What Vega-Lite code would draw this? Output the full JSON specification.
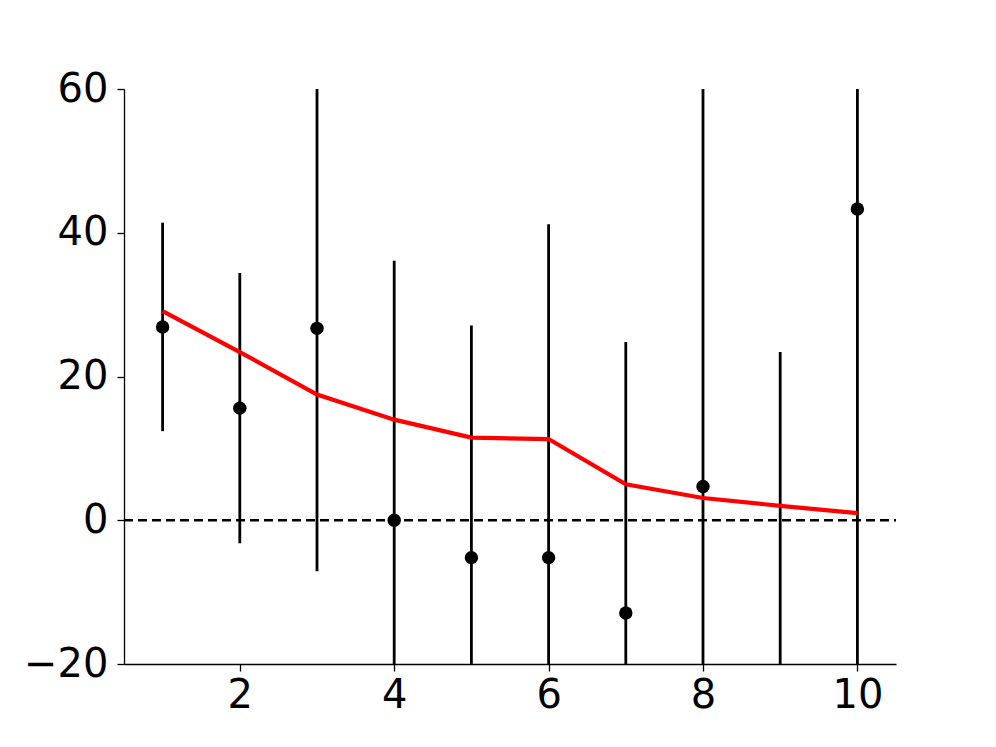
{
  "$schema": "https://vega.github.io/schema/vega-lite/v6.json",
  "width": 772,
  "height": 575,
  "autosize": {"type": "none"},
  "padding": {"left": 124, "top": 89, "right": 100, "bottom": 83},
  "background": "white",
  "config": {
    "view": {"stroke": null},
    "font": "DejaVu Sans",
    "axis": {
      "grid": false,
      "domainColor": "black",
      "domainWidth": 1.3,
      "tickColor": "black",
      "tickWidth": 1.3,
      "tickSize": 7,
      "labelFont": "DejaVu Sans",
      "labelFontSize": 40,
      "labelColor": "black",
      "title": null
    },
    "axisX": {"labelPadding": 4},
    "axisY": {"labelPadding": 9}
  },
  "datasets": {
    "obs": [
      {"x": 1, "y": 26.9, "lo": 12.4, "hi": 41.4},
      {"x": 2, "y": 15.6, "lo": -3.2, "hi": 34.4},
      {"x": 3, "y": 26.7, "lo": -7.1, "hi": 70},
      {"x": 4, "y": 0.0, "lo": -30, "hi": 36.1},
      {"x": 5, "y": -5.2, "lo": -30, "hi": 27.1},
      {"x": 6, "y": -5.2, "lo": -30, "hi": 41.2},
      {"x": 7, "y": -12.9, "lo": -30, "hi": 24.8},
      {"x": 8, "y": 4.7, "lo": -30, "hi": 70},
      {"x": 9, "y": null, "lo": -30, "hi": 23.4},
      {"x": 10, "y": 43.3, "lo": -30, "hi": 70}
    ],
    "trend": [
      {"x": 1, "v": 29.1},
      {"x": 2, "v": 23.4},
      {"x": 3, "v": 17.5},
      {"x": 4, "v": 14.0},
      {"x": 5, "v": 11.5},
      {"x": 6, "v": 11.3},
      {"x": 7, "v": 5.0},
      {"x": 8, "v": 3.1},
      {"x": 9, "v": 2.0},
      {"x": 10, "v": 1.0}
    ],
    "zero": [{"x": 0.5, "v": 0}, {"x": 10.5, "v": 0}]
  },
  "layer": [
    {
      "data": {"name": "zero"},
      "mark": {"type": "line", "color": "black", "strokeWidth": 2.6, "strokeDash": [9, 5], "clip": true},
      "encoding": {
        "x": {"field": "x", "type": "quantitative", "scale": {"domain": [0.5, 10.5], "nice": false, "zero": false},
              "axis": {"values": [2, 4, 6, 8, 10], "format": "d"}},
        "y": {"field": "v", "type": "quantitative", "scale": {"domain": [-20, 60], "nice": false},
              "axis": {"values": [-20, 0, 20, 40, 60], "labelExpr": "replace(datum.label, '-', '−')"}}
      }
    },
    {
      "data": {"name": "obs"},
      "mark": {"type": "rule", "color": "black", "strokeWidth": 2.8, "clip": true},
      "encoding": {
        "x": {"field": "x", "type": "quantitative"},
        "y": {"field": "lo", "type": "quantitative"},
        "y2": {"field": "hi"}
      }
    },
    {
      "data": {"name": "trend"},
      "mark": {"type": "line", "color": "#ff0000", "strokeWidth": 4.2, "clip": true},
      "encoding": {
        "x": {"field": "x", "type": "quantitative"},
        "y": {"field": "v", "type": "quantitative"}
      }
    },
    {
      "data": {"name": "obs"},
      "transform": [{"filter": "datum.y != null"}],
      "mark": {"type": "circle", "color": "black", "opacity": 1, "size": 180, "clip": true},
      "encoding": {
        "x": {"field": "x", "type": "quantitative"},
        "y": {"field": "y", "type": "quantitative"}
      }
    }
  ]
}
